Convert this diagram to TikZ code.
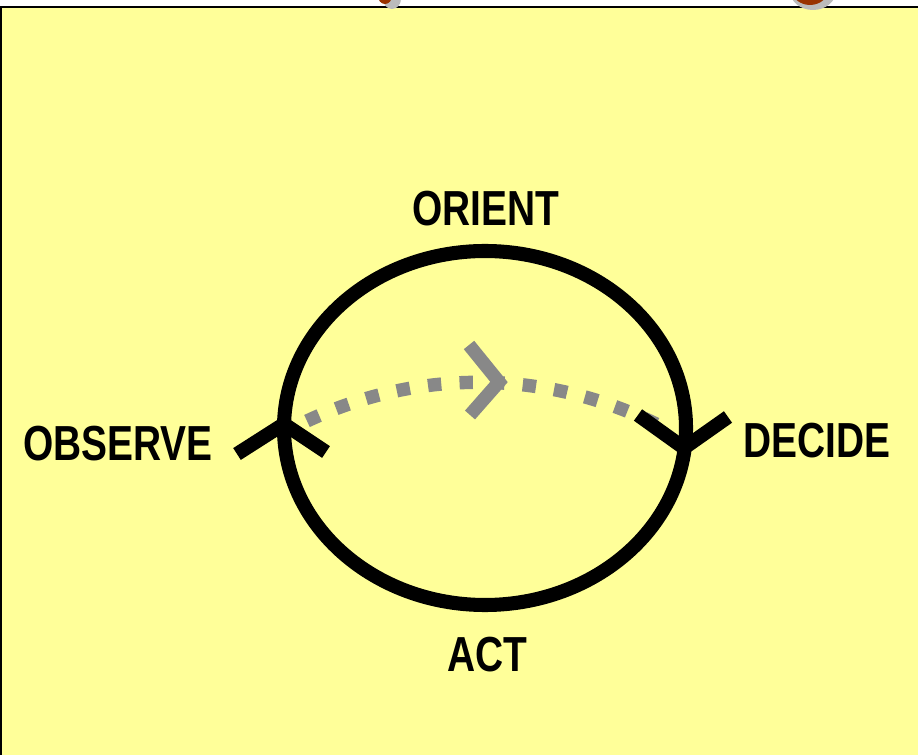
\documentclass[tikz,border=0pt]{standalone}
\usepackage{fontspec}
\setmainfont{Liberation Sans}
\newfontfamily\narrowfont[FakeStretch=0.79]{Liberation Sans}
\usepackage{tikz}
\definecolor{pad}{HTML}{FFFF99}
\definecolor{loopgray}{HTML}{888888}
\definecolor{rust}{HTML}{993300}
\definecolor{rim}{HTML}{BBBBBB}
\tikzset{
  phase/.style={font=\narrowfont\bfseries\fontsize{14}{16}\selectfont, inner sep=0pt},
  cycle/.style={line width=4pt, black},
  tick/.style={line width=4pt, black, line cap=butt, line join=miter},
  inner loop/.style={line width=3.8pt, loopgray, dash pattern=on 3.8pt off 5.2pt},
  chevron/.style={line width=3.8pt, loopgray, line join=miter}
}

\begin{document}
\begin{tikzpicture}[x=0.01cm, y=-0.01cm]
\useasboundingbox (0,0) rectangle (918,755);
\fill[white] (0,0) rectangle (918,755);
\fill[pad] (1,7) rectangle (925,760);
\draw[line width=0.6pt] (0,7) -- (918,7);
\draw[line width=0.6pt] (1,7) -- (1,755);

% bits of the clip art above the frame
\begin{scope}
\clip (0,0) rectangle (918,12);
\fill[rim] (392,-1) ellipse [x radius=9, y radius=10];
\fill[rust] (385,-4) ellipse [x radius=7, y radius=8];
\fill[rim] (813,-9) ellipse [x radius=23, y radius=19];
\fill[rust] (810,-12) ellipse [x radius=19, y radius=17];
\end{scope}

\coordinate (mid) at (485,428);
\draw[cycle] (mid) ellipse [x radius=201, y radius=177]; % ooda loop

% dotted inner loop
\coordinate (ls) at (307,421);
\coordinate (le) at (668,430);
\draw[inner loop] (ls) .. controls (420,368) and (550,368) .. (le);
\coordinate (ctip) at (499,382);
\coordinate (ca) at (469,345);
\coordinate (cb) at (470,415);
\draw[chevron] (ca) -- (ctip) -- (cb);

% arrow heads on the loop
\coordinate (otip) at (284,424);
\coordinate (oa) at (237,454);
\coordinate (ob) at (326,452);
\draw[tick] (oa) -- (otip) -- (ob);
\coordinate (dtip) at (684,448);
\coordinate (da) at (638,415);
\coordinate (db) at (728,417);
\draw[tick] (da) -- (dtip) -- (db);

\node[phase] (orient) at (486,209) {ORIENT};
\node[phase] (observe) at (118,444) {OBSERVE};
\node[phase] (decide) at (817,441) {DECIDE};
\node[phase] (act) at (487,655) {ACT};
\end{tikzpicture}
\end{document}
